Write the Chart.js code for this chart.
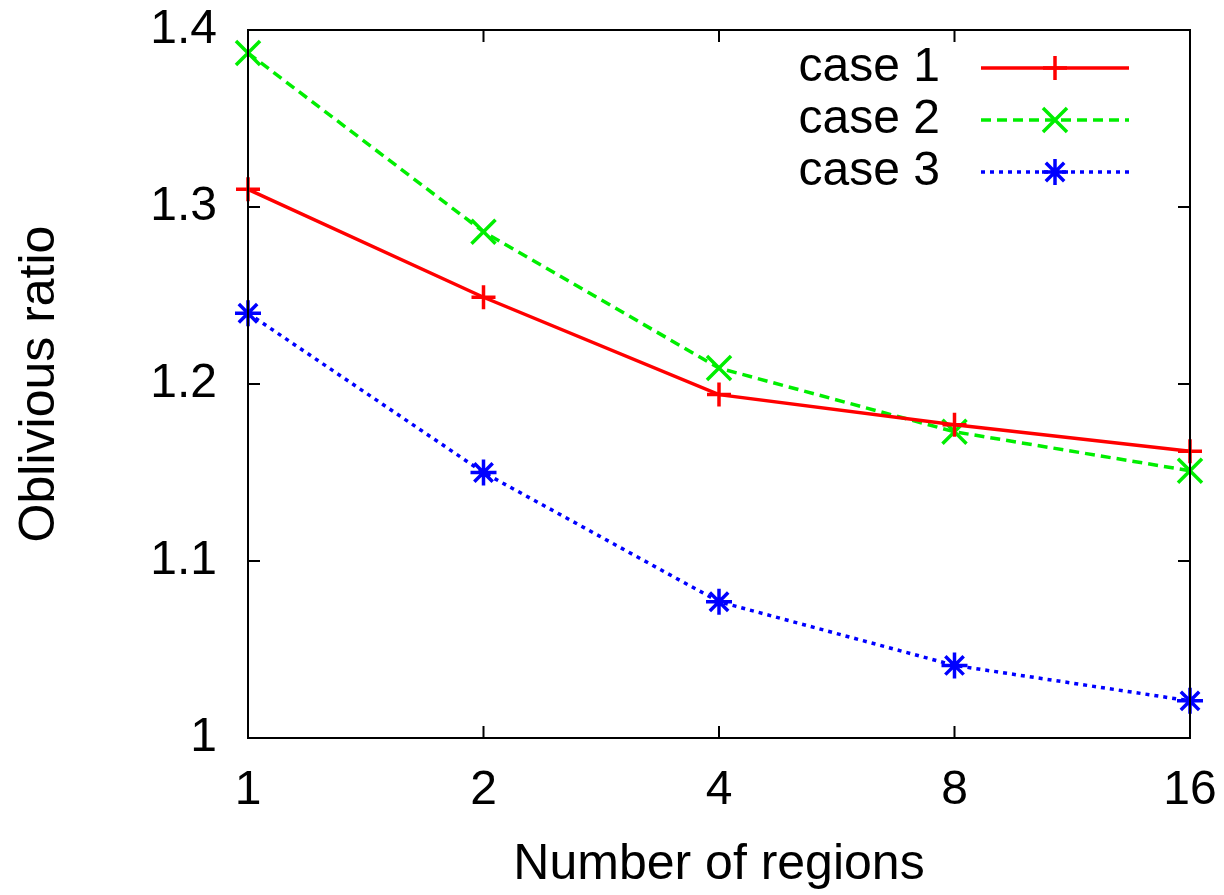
<!DOCTYPE html>
<html>
<head>
<meta charset="utf-8">
<script src="https://cdn.jsdelivr.net/npm/chart.js@4/dist/chart.umd.min.js"></script>
<style>
  body { margin: 0; background: #fff; }
  #wrap { width: 1224px; height: 895px; position: relative; }
</style>
</head>
<body>
<div id="wrap"><canvas id="ratioChart"></canvas></div>
<script>
// values
const regions = [1, 2, 4, 8, 16];
const case1 = [1.310, 1.249, 1.194, 1.177, 1.162];
const case2 = [1.387, 1.286, 1.209, 1.173, 1.151];
const case3 = [1.240, 1.150, 1.077, 1.041, 1.021];
const seriesNames = ["case 1", "case 2", "case 3"];
const yTicks = [1, 1.1, 1.2, 1.3, 1.4];

const FONT = "'Liberation Sans', Arial, Helvetica, sans-serif";

function toPoints(vals) {
    return regions.map((r, i) => ({ x: r, y: vals[i] }));
}

// gnuplot style frame with inward ticks on all four sides
const framePlugin = {
    id: "frame",
    afterDatasetsDraw(chart) {
        const { ctx, chartArea: a, scales } = chart;
        const tl = 12;
        ctx.save();
        ctx.strokeStyle = "#000";
        ctx.lineWidth = 2;
        ctx.beginPath();
        regions.forEach(v => {
            const px = scales.x.getPixelForValue(v);
            ctx.moveTo(px, a.bottom); ctx.lineTo(px, a.bottom - tl);
            ctx.moveTo(px, a.top); ctx.lineTo(px, a.top + tl);
        });
        yTicks.forEach(v => {
            const py = scales.y.getPixelForValue(v);
            ctx.moveTo(a.left, py); ctx.lineTo(a.left + tl, py);
            ctx.moveTo(a.right, py); ctx.lineTo(a.right - tl, py);
        });
        ctx.stroke();
        ctx.strokeRect(a.left, a.top, a.right - a.left, a.bottom - a.top);
        ctx.restore();
    },
    afterDraw(chart) {
        // legend box inside the plot, top right
        const ctx = chart.ctx;
        const textRight = 940, lineL = 981, lineR = 1129;
        const rowY = [68, 120, 172];
        ctx.save();
        chart.data.datasets.forEach((ds, i) => {
            const y = rowY[i];
            ctx.fillStyle = "#000";
            ctx.font = "48px " + FONT;
            ctx.textAlign = "right";
            ctx.textBaseline = "middle";
            ctx.fillText(ds.label, textRight, y);
            ctx.strokeStyle = ds.borderColor;
            ctx.lineWidth = ds.borderWidth;
            ctx.setLineDash(ds.borderDash || []);
            ctx.beginPath();
            ctx.moveTo(lineL, y);
            ctx.lineTo(lineR, y);
            ctx.stroke();
            ctx.setLineDash([]);
            Chart.helpers.drawPoint(ctx, {
                pointStyle: ds.pointStyle,
                radius: ds.pointRadius,
                borderWidth: ds.pointBorderWidth,
                rotation: 0
            }, (lineL + lineR) / 2, y);
        });
        ctx.restore();
    }
};

const ctx = document.getElementById("ratioChart").getContext("2d");

new Chart(ctx, {
    type: "line",
    data: {
        datasets: [
            {
                label: seriesNames[0],
                data: toPoints(case1),
                borderColor: "#ff0000",
                backgroundColor: "#ff0000",
                borderWidth: 3.5,
                pointStyle: "cross",
                pointRadius: 12,
                pointBorderWidth: 3.5,
                pointBorderColor: "#ff0000"
            },
            {
                label: seriesNames[1],
                data: toPoints(case2),
                borderColor: "#00ee00",
                backgroundColor: "#00ee00",
                borderWidth: 3.5,
                borderDash: [10, 6],
                pointStyle: "crossRot",
                pointRadius: 17,
                pointBorderWidth: 3.5,
                pointBorderColor: "#00ee00"
            },
            {
                label: seriesNames[2],
                data: toPoints(case3),
                borderColor: "#0000ff",
                backgroundColor: "#0000ff",
                borderWidth: 3.5,
                borderDash: [4, 5],
                pointStyle: "star",
                pointRadius: 13,
                pointBorderWidth: 3.5,
                pointBorderColor: "#0000ff"
            }
        ]
    },
    options: {
        responsive: true,
        maintainAspectRatio: false,
        animation: false,
        clip: false,
        layout: { padding: { top: 30, right: 34, left: 0, bottom: 0 } },
        plugins: {
            legend: { display: false },
            tooltip: { enabled: false }
        },
        scales: {
            x: {
                type: "logarithmic",
                min: 1,
                max: 16,
                afterBuildTicks: scale => { scale.ticks = regions.map(v => ({ value: v })); },
                afterFit: scale => {
                    scale.height = 157;
                    scale.paddingLeft = 0;
                    scale.paddingRight = 0;
                },
                grid: { display: false, drawTicks: false },
                border: { display: false },
                ticks: {
                    color: "#000",
                    padding: 24,
                    maxRotation: 0,
                    autoSkip: false,
                    font: { family: FONT, size: 48 },
                    callback: v => String(v)
                },
                title: {
                    display: true,
                    text: "Number of regions",
                    color: "#000",
                    font: { family: FONT, size: 50 },
                    padding: { top: 0, bottom: 0 }
                }
            },
            y: {
                min: 1,
                max: 1.4,
                afterBuildTicks: scale => { scale.ticks = yTicks.map(v => ({ value: v })); },
                afterFit: scale => {
                    scale.width = 248;
                    scale.paddingTop = 0;
                    scale.paddingBottom = 0;
                },
                grid: { display: false, drawTicks: false },
                border: { display: false },
                ticks: {
                    color: "#000",
                    padding: 31,
                    font: { family: FONT, size: 48 },
                    callback: v => String(Number(v.toFixed(1)))
                },
                title: {
                    display: true,
                    text: "Oblivious ratio",
                    color: "#000",
                    font: { family: FONT, size: 50 },
                    padding: { top: 10, bottom: 0 }
                }
            }
        }
    },
    plugins: [framePlugin]
});
</script>
</body>
</html>
